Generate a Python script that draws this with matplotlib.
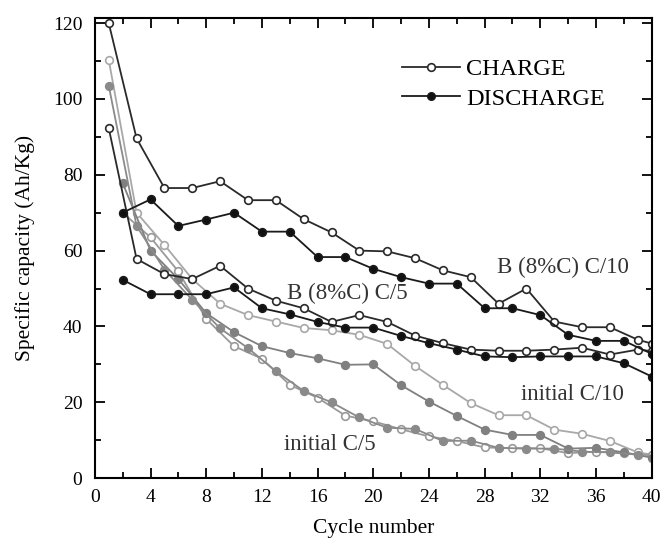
# Specific capacity vs cycle number, charge / discharge curves

import matplotlib.pyplot as plt
from matplotlib.lines import Line2D
from matplotlib.ticker import MultipleLocator

plt.rcParams['font.family'] = ['Liberation Serif', 'DejaVu Serif']

# B (8%C) C/10
b10_chg_x = [1, 3, 5, 7, 9, 11, 13, 15, 17, 19, 21, 23, 25, 27, 29, 31, 33, 35, 37, 39, 40]
b10_chg_y = [120, 89.6, 76.5, 76.5, 78.3, 73.3, 73.3, 68.3, 64.8, 60, 59.8, 58, 54.8, 53, 46, 50,
             41.3, 39.8, 39.8, 36.5, 35.5]
b10_dis_x = [2, 4, 6, 8, 10, 12, 14, 16, 18, 20, 22, 24, 26, 28, 30, 32, 34, 36, 38, 40]
b10_dis_y = [70, 73.5, 66.5, 68.2, 70, 65, 65, 58.3, 58.3, 55.2, 53, 51.3, 51.3, 44.8, 44.8, 43,
             37.8, 36.2, 36.2, 32.8]

# B (8%C) C/5
b5_chg_x = [1, 3, 5, 7, 9, 11, 13, 15, 17, 19, 21, 23, 25, 27, 29, 31, 33, 35, 37, 39, 40]
b5_chg_y = [92.3, 57.8, 53.8, 52.5, 56, 50, 46.8, 44.8, 41.2, 43, 41.2, 37.6, 35.6, 33.9, 33.6, 33.6,
            33.9, 34.4, 32.6, 33.9, 33.5]
b5_dis_x = [2, 4, 6, 8, 10, 12, 14, 16, 18, 20, 22, 24, 26, 28, 30, 32, 34, 36, 38, 40]
b5_dis_y = [52.3, 48.5, 48.5, 48.5, 50.3, 44.8, 43.2, 41.2, 39.7, 39.7, 37.5, 35.6, 33.9, 32.1, 31.9,
            32.1, 32.1, 32.1, 30.3, 26.8]

# initial C/10
i10_chg_x = [1, 3, 5, 7, 9, 11, 13, 15, 17, 19, 21, 23, 25, 27, 29, 31, 33, 35, 37, 39, 40]
i10_chg_y = [110.3, 70, 61.5, 52.5, 46, 43, 41.3, 39.6, 39, 37.8, 35.4, 29.6, 24.6, 19.8, 16.6, 16.6,
             12.8, 11.7, 9.8, 6.8, 6.2]
i10_dis_x = [2, 4, 6, 8, 10, 12, 14, 16, 18, 20, 22, 24, 26, 28, 30, 32, 34, 36, 38, 40]
i10_dis_y = [77.8, 60, 52.5, 43.5, 38.5, 34.8, 33, 31.6, 29.9, 30, 24.5, 20.2, 16.4, 12.8, 11.4,
             11.4, 7.8, 8, 6.8, 5.4]

# initial C/5
i5_chg_x = [2, 4, 6, 8, 10, 12, 14, 16, 18, 20, 22, 24, 26, 28, 30, 32, 34, 36, 38, 40]
i5_chg_y = [70, 63.5, 54.5, 42, 34.8, 31.5, 24.6, 21.2, 16.5, 15, 12.9, 11, 9.8, 8.1, 7.9, 7.9, 6.6,
            7, 6.6, 6]
i5_dis_x = [1, 3, 5, 7, 9, 11, 13, 15, 17, 19, 21, 23, 25, 27, 29, 31, 33, 35, 37, 39]
i5_dis_y = [103.5, 66.5, 55, 47, 39.5, 34.3, 28.2, 23, 20, 16, 13.3, 13, 9.8, 9.9, 8, 7.8, 7.8, 7,
            6.8, 6.2]

series = [
    (i10_chg_x, i10_chg_y, '#a8a8a8', 'white'),
    (i5_chg_x, i5_chg_y, '#9a9a9a', 'white'),
    (i10_dis_x, i10_dis_y, '#808080', '#808080'),
    (i5_dis_x, i5_dis_y, '#8a8a8a', '#8a8a8a'),
    (b5_chg_x, b5_chg_y, '#2a2a2a', 'white'),
    (b5_dis_x, b5_dis_y, '#1a1a1a', '#111111'),
    (b10_chg_x, b10_chg_y, '#2a2a2a', 'white'),
    (b10_dis_x, b10_dis_y, '#1a1a1a', '#111111'),
]

fig = plt.figure(figsize=(6.63, 5.44), dpi=100)
ax = fig.add_axes([0.143, 0.121, 0.840, 0.845])

for x, y, col, face in series:
    ax.plot(x, y, color=col, lw=1.3, marker='o', ms=5.5, mfc=face, mec=col, mew=1.2)

ax.set_xlim(0, 40)
ax.set_ylim(0, 121.2)
ax.xaxis.set_major_locator(MultipleLocator(4))
ax.xaxis.set_minor_locator(MultipleLocator(2))
ax.yaxis.set_major_locator(MultipleLocator(20))
ax.yaxis.set_minor_locator(MultipleLocator(10))
ax.tick_params(which='both', direction='in', top=True, right=True, width=1.3, labelsize=14)
ax.tick_params(which='major', length=7)
ax.tick_params(which='minor', length=4)
ax.tick_params(axis='y', which='major', pad=9)
ax.tick_params(axis='x', which='major', pad=8)
for s in ax.spines.values():
    s.set_linewidth(1.5)

ax.set_xlabel('Cycle number', fontsize=15.5, labelpad=9)
ax.set_ylabel('Specific capacity (Ah/Kg)', fontsize=15.5, labelpad=13)

ax.text(28.9, 55.5, 'B (8%C) C/10', fontsize=16.5, va='center', color='#333333')
ax.text(13.8, 48.7, 'B (8%C) C/5', fontsize=16.5, va='center', color='#333333')
ax.text(30.6, 22.1, 'initial C/10', fontsize=16.5, va='center', color='#333333')
ax.text(13.6, 8.9, 'initial C/5', fontsize=16.5, va='center', color='#333333')

handles = [
    Line2D([], [], color='#2a2a2a', lw=1.3, marker='o', ms=5.5, mfc='white', mew=1.2),
    Line2D([], [], color='#1a1a1a', lw=1.3, marker='o', ms=5.5, mfc='#111111'),
]
ax.legend(handles, ['CHARGE', 'DISCHARGE'], loc='upper left', bbox_to_anchor=(0.512, 0.961),
          frameon=False, fontsize=17.5, handlelength=2.4, handletextpad=0.25, labelspacing=0.3)

fig.savefig('out.png', dpi=100)
